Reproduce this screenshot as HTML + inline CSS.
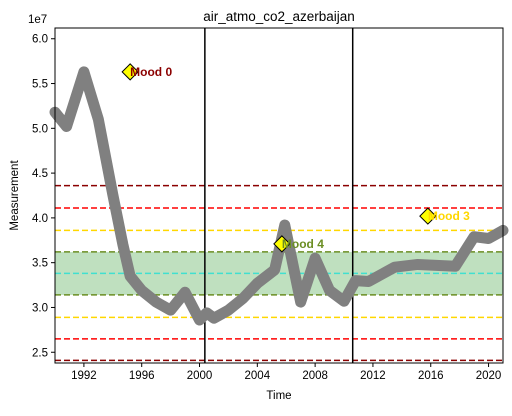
<!DOCTYPE html>
<html><head><meta charset="utf-8"><style>
body{margin:0;background:#fff;font-family:"Liberation Sans",sans-serif}
text{font-family:"Liberation Sans",sans-serif}
</style></head><body>
<svg id="c" width="512" height="411" xmlns="http://www.w3.org/2000/svg"></svg>
<script>
const years=[1990,1990.8,1992,1993,1994,1994.7,1995.2,1996,1997,1998,1999,2000,2000.5,2001,2002,2003,2004,2005.2,2005.9,2007,2008,2009,2010,2010.8,2011.7,2013.5,2015.1,2017.7,2019,2020,2021];
const values=[5.18,5.02,5.63,5.1,4.26,3.7,3.35,3.19,3.06,2.97,3.17,2.86,2.94,2.88,2.97,3.1,3.27,3.42,3.92,3.06,3.55,3.19,3.07,3.3,3.29,3.45,3.48,3.46,3.79,3.77,3.86];
const hlines=[4.36,4.11,3.86,3.62,3.38,3.14,2.89,2.65,2.41];
const hcolors=["#8b0000","#ff0000","#ffd700","#6b8e23","#40e0d0","#6b8e23","#ffd700","#ff0000","#8b0000"];
const vlines=[2000.37,2010.6];
const moods=[{t:"Mood 0",x:1995.2,v:5.63,c:"#8b0000"},{t:"Mood 4",x:2005.7,v:3.71,c:"#6b8e23"},{t:"Mood 3",x:2015.8,v:4.02,c:"#ffd700"}];
const yticks=[2.5,3.0,3.5,4.0,4.5,5.0,5.5,6.0];
const xticks=[1992,1996,2000,2004,2008,2012,2016,2020];
const L=55,R=503,T=28,B=363,x0=1990,x1=2021,y0=2.38,y1=6.12;
const X=v=>L+(v-x0)/(x1-x0)*(R-L), Y=v=>B-(v-y0)/(y1-y0)*(B-T);
const s=document.getElementById('c'),NS="http://www.w3.org/2000/svg";
function mk(tag,a,p){const e=document.createElementNS(NS,tag);for(const k in a)e.setAttribute(k,a[k]);(p||s).appendChild(e);return e;}
let e;
e=mk('rect',{x:L,y:Y(3.62),width:R-L,height:Y(3.14)-Y(3.62),fill:"#bfe0bf"});

hlines.forEach((h,i)=>{e=mk('line',{x1:L,x2:R,y1:Y(h),y2:Y(h),stroke:hcolors[i],'stroke-width':1.5,'stroke-dasharray':'6,3'});
});
vlines.forEach(v=>{e=mk('line',{x1:X(v),x2:X(v),y1:T,y2:B,stroke:"#000",'stroke-width':1.5});
});
e=mk('polyline',{points:years.map((y,i)=>X(y)+","+Y(values[i])).join(" "),fill:"none",stroke:"#808080",'stroke-width':11,'stroke-linejoin':'round','stroke-linecap':'round'});

moods.forEach(m=>{const cx=X(m.x),cy=Y(m.v);
e=mk('polygon',{points:`${cx},${cy-8} ${cx+8},${cy} ${cx},${cy+8} ${cx-8},${cy}`,fill:"#ffff00",stroke:"#000",'stroke-width':1});

e=mk('text',{x:cx,y:cy+4,fill:m.c,'font-size':12,'font-weight':'bold'});e.textContent=m.t;
});
e=mk('rect',{x:L,y:T,width:R-L,height:B-T,fill:"none",stroke:"#000",'stroke-width':1});

yticks.forEach(t=>{mk('line',{x1:L-4,x2:L,y1:Y(t),y2:Y(t),stroke:"#000"});
e=mk('text',{x:L-7,y:Y(t)+4,'text-anchor':'end','font-size':11.5});e.textContent=t.toFixed(1);
});
xticks.forEach(t=>{mk('line',{x1:X(t),x2:X(t),y1:B,y2:B+4,stroke:"#000"});
e=mk('text',{x:X(t),y:B+16,'text-anchor':'middle','font-size':11.5});e.textContent=t;
});
e=mk('text',{x:28,y:23,'font-size':11.5});e.textContent="1e7";

e=mk('text',{x:(L+R)/2,y:21,'text-anchor':'middle','font-size':13.5});e.textContent="air_atmo_co2_azerbaijan";

e=mk('text',{x:(L+R)/2,y:399,'text-anchor':'middle','font-size':11.5});e.textContent="Time";

e=mk('text',{x:18,y:(T+B)/2,'text-anchor':'middle','font-size':11.5,transform:`rotate(-90 18 ${(T+B)/2})`});e.textContent="Measurement";

</script>
</body></html>
